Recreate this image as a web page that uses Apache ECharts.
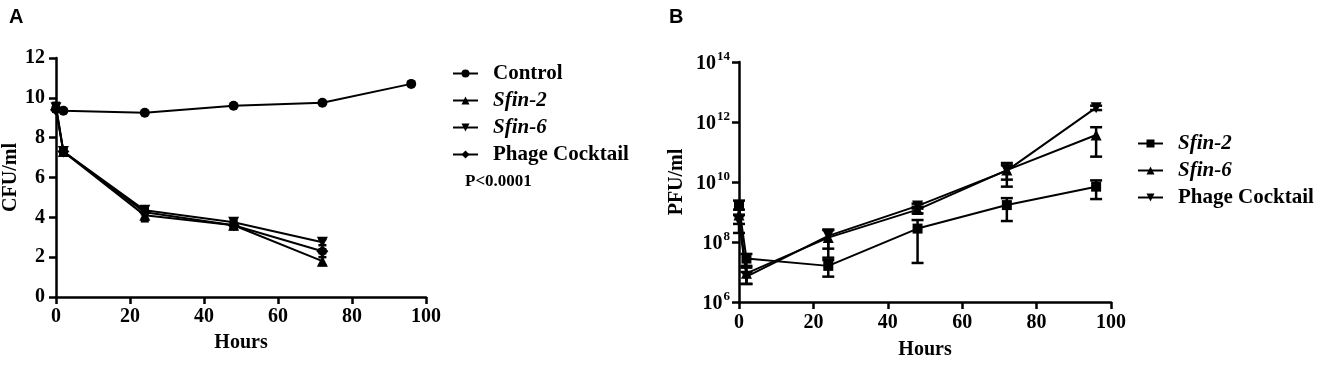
<!DOCTYPE html>
<html>
<head>
<meta charset="utf-8">
<script src="https://cdn.jsdelivr.net/npm/echarts@6/dist/echarts.min.js"></script>
<style>
html,body{margin:0;padding:0;background:#fff;}
#main{width:1325px;height:365px;}
</style>
</head>
<body>
<div id="main"></div>
<script>
// 数据
var hours = [0, 2, 24, 48, 72, 96];
var hoursPhage = [0, 2, 24, 48, 72];

// A: CFU/ml
var control = [9.45, 9.35, 9.25, 9.6, 9.75, 10.7];
var sfin2A = [9.6, 7.3, 4.1, 3.6, 1.8];
var sfin6A = [9.5, 7.3, 4.35, 3.75, 2.75];
var cocktailA = [9.4, 7.3, 4.25, 3.6, 2.3];
var sfin2Asd = [0.15, 0.15, 0.3, 0.2, 0.2];
var sfin6Asd = [0.15, 0.1, 0.1, 0.2, 0.15];
var cocktailAsd = [0.1, 0.1, 0.1, 0.15, 0.1];

// B: PFU/ml
var sfin2B = [1.6e9, 2.8e7, 1.6e7, 2.8e8, 1.7e9, 7.0e9];
var sfin2Bsd = [8e8, 1.2e7, 9e6, 2.6e8, 1.2e9, 4.3e9];
var sfin6B = [8e8, 9e6, 1.4e8, 1.2e9, 2.5e10, 3.7e11];
var sfin6Bsd = [4e8, 5e6, 1.1e8, 3e8, 1.8e10, 3e11];
var cocktailB = [5e8, 7e6, 1.6e8, 1.6e9, 2.4e10, 3e12];
var cocktailBsd = [3e8, 3e6, 1e8, 3e8, 1.2e10, 5e11];

var legendA = ['Control', 'Sfin-2', 'Sfin-6', 'Phage Cocktail'];
var legendB = ['Sfin-2 ', 'Sfin-6 ', 'Phage Cocktail '];

var serif = 'Liberation Serif';

function pairs(xs, ys) {
    return xs.map(function (x, i) { return [x, ys[i]]; });
}
function triples(xs, ys, sd) {
    return xs.map(function (x, i) { return [x, ys[i], sd[i]]; });
}

function errSeries(idx, xs, ys, sd, cap) {
    return {
        type: 'custom',
        xAxisIndex: idx,
        yAxisIndex: idx,
        silent: true,
        z: 3,
        data: triples(xs, ys, sd),
        encode: { x: 0, y: 1 },
        renderItem: function (params, api) {
            var x = api.value(0), y = api.value(1), s = api.value(2);
            var lo = y - s;
            if (lo <= 0) lo = y / 10;
            var p1 = api.coord([x, lo]);
            var p2 = api.coord([x, y + s]);
            var st = { stroke: '#000', lineWidth: 2.5 };
            return {
                type: 'group',
                children: [
                    { type: 'line', shape: { x1: p1[0], y1: p1[1], x2: p2[0], y2: p2[1] }, style: st },
                    { type: 'line', shape: { x1: p1[0] - cap, y1: p1[1], x2: p1[0] + cap, y2: p1[1] }, style: st },
                    { type: 'line', shape: { x1: p2[0] - cap, y1: p2[1], x2: p2[0] + cap, y2: p2[1] }, style: st }
                ]
            };
        }
    };
}

function lineSeries(name, idx, data, symbol, size, rotate) {
    return {
        name: name,
        type: 'line',
        xAxisIndex: idx,
        yAxisIndex: idx,
        data: data,
        symbol: symbol,
        symbolSize: size,
        symbolRotate: rotate || 0,
        showSymbol: true,
        z: 4,
        lineStyle: { color: '#000', width: 2 },
        itemStyle: { color: '#000' }
    };
}

var axisLineStyle = { show: true, lineStyle: { color: '#000', width: 2.5 } };
var tickStyle = { show: true, length: 7, lineStyle: { color: '#000', width: 2.5 } };
var labelStyle = { color: '#000', fontFamily: serif, fontWeight: 'bold', fontSize: 20 };
var nameStyle = { color: '#000', fontFamily: serif, fontWeight: 'bold', fontSize: 20 };

var legendRich = {
    i: { fontFamily: serif, fontWeight: 'bold', fontStyle: 'italic', fontSize: 21, color: '#000', padding: [0, 0, 0, 10] },
    n: { fontFamily: serif, fontWeight: 'bold', fontSize: 21, color: '#000', padding: [0, 0, 0, 10] }
};
function legendFmt(name) {
    name = name.trim();
    if (name.indexOf('Sfin') === 0) return '{i|' + name + '}';
    return '{n|' + name + '}';
}

var myChart = echarts.init(document.getElementById('main'));
var option = {
    backgroundColor: '#fff',
    animation: false,
    title: [
        { text: 'A', left: 4, top: 2, textStyle: { fontFamily: 'Liberation Sans', fontWeight: 'bold', fontSize: 20, color: '#000' } },
        { text: 'B', left: 664, top: 2, textStyle: { fontFamily: 'Liberation Sans', fontWeight: 'bold', fontSize: 20, color: '#000' } },
        { text: 'P<0.0001', left: 460, top: 168, textStyle: { fontFamily: serif, fontWeight: 'bold', fontSize: 17, color: '#000' } }
    ],
    legend: [{
        orient: 'vertical',
        left: 447,
        top: 58,
        itemWidth: 25,
        itemHeight: 10,
        itemGap: 6,
        data: legendA,
        formatter: legendFmt,
        textStyle: { rich: legendRich, fontSize: 21 }
    }, {
        orient: 'vertical',
        left: 1132,
        top: 128,
        itemWidth: 25,
        itemHeight: 10,
        itemGap: 6,
        data: legendB,
        formatter: legendFmt,
        textStyle: { rich: legendRich, fontSize: 21 }
    }],
    grid: [
        { left: 56, top: 58, width: 370, height: 239 },
        { left: 739, top: 62, width: 372, height: 240 }
    ],
    xAxis: [0, 1].map(function (i) {
        return {
            type: 'value',
            gridIndex: i,
            min: 0,
            max: 100,
            interval: 20,
            name: 'Hours',
            nameLocation: 'middle',
            nameGap: i === 0 ? 36 : 38,
            nameTextStyle: nameStyle,
            axisLine: axisLineStyle,
            axisTick: tickStyle,
            axisLabel: Object.assign({ margin: i === 0 ? 10 : 11 }, labelStyle),
            splitLine: { show: false }
        };
    }),
    yAxis: [{
        type: 'value',
        gridIndex: 0,
        min: 0,
        max: 12,
        interval: 2,
        name: 'CFU/ml',
        nameLocation: 'middle',
        nameGap: 26,
        nameTextStyle: nameStyle,
        axisLine: axisLineStyle,
        axisTick: tickStyle,
        axisLabel: Object.assign({ margin: 11 }, labelStyle),
        splitLine: { show: false }
    }, {
        type: 'log',
        logBase: 10,
        gridIndex: 1,
        min: 1e6,
        max: 1e14,
        interval: 2,
        name: 'PFU/ml',
        nameLocation: 'middle',
        nameGap: 52,
        nameTextStyle: nameStyle,
        axisLine: axisLineStyle,
        axisTick: tickStyle,
        axisLabel: {
            margin: 9,
            formatter: function (v) {
                return '{b|10}{s|' + Math.round(Math.log10(v)) + '}';
            },
            rich: {
                b: { fontFamily: serif, fontWeight: 'bold', fontSize: 20, color: '#000', lineHeight: 24, verticalAlign: 'bottom' },
                s: { fontFamily: serif, fontWeight: 'bold', fontSize: 13, color: '#000', verticalAlign: 'top', padding: [0, 0, 0, 1] }
            }
        },
        splitLine: { show: false }
    }],
    series: [
        lineSeries('Control', 0, pairs(hours, control), 'circle', 10),
        lineSeries('Sfin-2', 0, pairs(hoursPhage, sfin2A), 'triangle', 11),
        lineSeries('Sfin-6', 0, pairs(hoursPhage, sfin6A), 'triangle', 11, 180),
        lineSeries('Phage Cocktail', 0, pairs(hoursPhage, cocktailA), 'diamond', 12),
        errSeries(0, hoursPhage, sfin2A, sfin2Asd, 4),
        errSeries(0, hoursPhage, sfin6A, sfin6Asd, 4),
        errSeries(0, hoursPhage, cocktailA, cocktailAsd, 4),
        lineSeries(legendB[0], 1, pairs(hours, sfin2B), 'rect', 10),
        lineSeries(legendB[1], 1, pairs(hours, sfin6B), 'triangle', 11),
        lineSeries(legendB[2], 1, pairs(hours, cocktailB), 'triangle', 11, 180),
        errSeries(1, hours, sfin2B, sfin2Bsd, 6),
        errSeries(1, hours, sfin6B, sfin6Bsd, 6),
        errSeries(1, hours, cocktailB, cocktailBsd, 6)
    ]
};
myChart.setOption(option);
</script>
</body>
</html>
